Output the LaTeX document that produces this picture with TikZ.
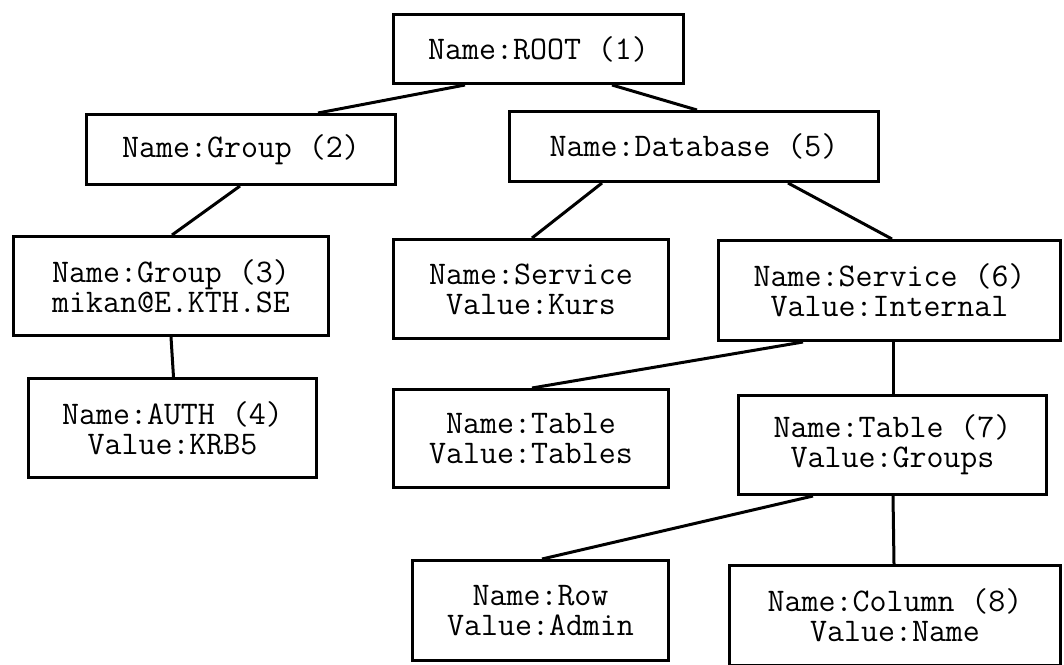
\documentclass[tikz,border=0pt]{standalone}
\usepackage{fontspec}

\tikzset{
  entry/.style 2 args={draw=black, line width=3pt, align=center, inner sep=0pt,
    minimum width=#1, minimum height=#2,
    font=\fontsize{33}{30}\selectfont\ttfamily},
  link/.style={line width=3pt},
}

\begin{document}
\begin{tikzpicture}[x=1pt,y=-1pt]
\useasboundingbox (0,0) rectangle (1064,664);

% the tree nodes
\node[entry={290pt}{69pt}] (root) at (538.5,49) {Name:ROOT (1)};
\node[entry={309pt}{70pt}] (grp2) at (241,149.5) {Name:Group (2)};
\node[entry={369pt}{70pt}] (db) at (694,146.5) {Name:Database (5)};
\node[entry={315pt}{99pt}] (grp3) at (171,286) {Name:Group (3)\\mikan@E.KTH.SE};
\node[entry={275pt}{99pt}] (kurs) at (531,289) {Name:Service\\Value:Kurs};
\node[entry={342pt}{100pt}] (svc6) at (889.5,290.5) {Name:Service (6)\\Value:Internal};
\node[entry={288pt}{99pt}] (auth) at (172.5,428) {Name:AUTH (4)\\Value:KRB5};
\node[entry={275pt}{98pt}] (tabs) at (531,438.5) {Name:Table\\Value:Tables};
\node[entry={308pt}{99pt}] (tab7) at (892.5,445) {Name:Table (7)\\Value:Groups};
\node[entry={256pt}{100pt}] (row) at (540.5,610.5) {Name:Row\\Value:Admin};
\node[entry={331pt}{100pt}] (col8) at (895,615.5) {Name:Column (8)\\Value:Name};

% edges
\draw[link] ([xshift=-73.5pt]root.south) -- ([xshift=77pt]grp2.north);
\draw[link] ([xshift=73.5pt]root.south) -- ([xshift=3pt]db.north);
\draw[link] ([xshift=-1pt]grp2.south) -- ([xshift=1pt]grp3.north);
\draw[link] ([xshift=-92pt]db.south) -- ([xshift=1pt]kurs.north);
\draw[link] ([xshift=94pt]db.south) -- ([xshift=2.5pt]svc6.north);
\draw[link] (grp3.south) -- ([xshift=1pt]auth.north);
\draw[link] ([xshift=-86.5pt]svc6.south) -- ([xshift=1pt]tabs.north);
\draw[link] ([xshift=3.5pt]svc6.south) -- ([xshift=0.5pt]tab7.north);
\draw[link] ([xshift=-79.5pt]tab7.south) -- ([xshift=1.5pt]row.north);
\draw[link] ([xshift=0.5pt]tab7.south) -- ([xshift=-1pt]col8.north);

\end{tikzpicture}
\end{document}
